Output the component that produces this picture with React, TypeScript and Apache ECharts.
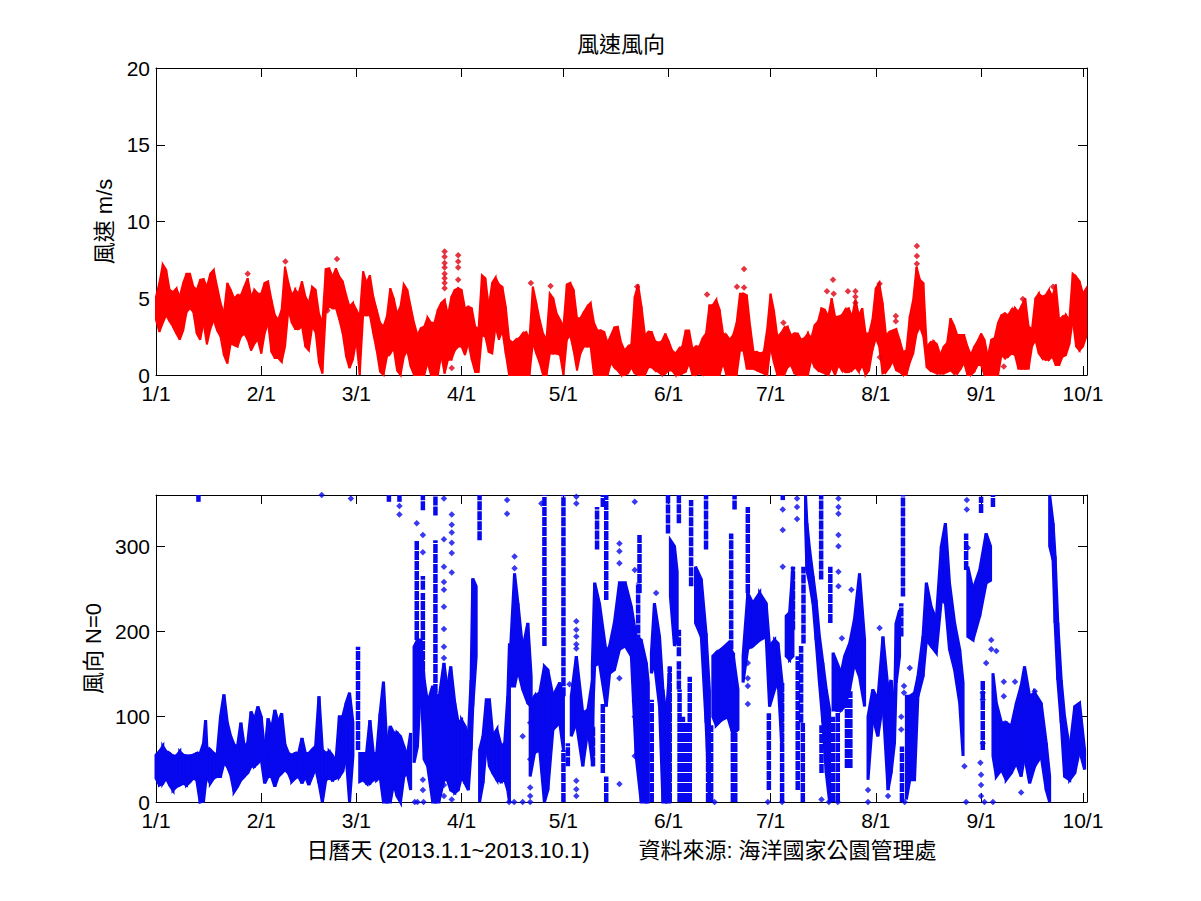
import React, { useEffect, useRef } from "react";
import * as echarts from "echarts";

const monthTicks = [0, 31, 59, 90, 120, 151, 181, 212, 243, 273];
const monthLabels = ["1/1", "2/1", "3/1", "4/1", "5/1", "6/1", "7/1", "8/1", "9/1", "10/1"];
const speedTicks = [0, 5, 10, 15, 20];
const dirTicks = [0, 100, 200, 300];

// daily envelope of wind speed (m/s), index = day of the year from 1/1
const speedLow = [
  3.6,2.8,3.4,3.9,3.5,3.15,2.7,2.3,2.9,4.1,
  4.35,4.1,2.7,2.3,3.4,2,3,3.6,2.9,2.5,
  1.3,.75,2.05,1.95,1.85,2.5,2.7,2.3,1.6,2.05,
  2.3,1.4,2.7,3.4,1.5,1.1,1.1,.85,1.85,4.25,
  3.4,3,3,3.15,1.85,1.6,3.15,2.8,.8,.1,
  4.1,4.45,4.35,4.35,3.6,2.7,1.2,.45,1,2.3,
  0,3.9,3.9,3.9,2.7,1.6,.2,0,1.2,1.4,
  1.75,.3,0,1.2,1.6,.55,0,0,0,0,
  .8,0,0,0,1.3,.1,1,1,1.6,1.85,
  1.85,1.3,2.1,1,.2,.2,2.6,2.5,1.5,1.4,
  3.15,2.3,2.9,1.4,0,0,0,0,0,0,
  0,2.1,1.4,.8,0,0,1.4,1.4,1.4,1.3,
  0,2.3,2.6,1.6,.3,1.4,1.85,1.85,1.85,0,
  0,0,0,0,.8,.5,.3,0,0,.1,
  .5,.1,0,0,0,.5,.5,.3,.2,0,
  .1,.3,.3,0,0,.1,.2,.8,0,0,
  .1,0,0,0,0,0,0,.8,0,0,
  0,0,1.6,1.6,.4,.4,.4,.3,.2,.1,
  0,1.85,.8,0,0,0,.5,.65,.1,0,
  0,0,0,1,.5,.3,.2,.1,0,.5,
  0,.65,.3,.2,.2,.3,.5,.2,.65,0,
  .3,1.6,2.4,1.85,.1,.2,.5,.9,.3,.2,
  0,0,.8,1.4,2.7,3.15,2.5,.5,.3,.2,
  .1,.1,.1,.2,.3,.1,.1,.4,.8,0,
  0,.2,.65,.65,0,0,0,0,0,1.3,
  1.1,1.2,1.4,1.3,.4,.4,.4,.4,1.85,2.3,
  1.4,1.1,1,1,1.2,.65,.65,1.2,1.3,2,
  3.6,1.85,1.6,1.85,2.5,
];
const speedHigh = [
  5.1,6,7.2,6.85,5.55,5.4,5.65,5.1,6,6.6,
  6.6,5.75,5.55,6.2,6.25,5.75,6.6,6.85,5.75,4.7,
  4,6,5.55,5,5.2,5.2,5.75,6.3,5.1,5.55,
  5.3,5.3,6,6.1,4.9,3.9,3.6,4.25,7.05,6,
  5.2,5.55,5.3,6.1,5.1,4.7,5.75,5.55,4,3.4,
  6.9,6.95,6.4,6.95,6.4,6.1,5.2,4.45,4.7,4.25,
  3.8,6.75,6,6.5,5.1,4.25,3.4,3.15,3.8,5.65,
  5,4,4.45,5.9,5.55,4.45,3.4,2.6,3.05,3.15,
  3.75,3.4,3.4,4.25,4.7,4.9,3.9,5.1,5.55,5.65,
  5.55,4.35,4.45,4.35,3.15,3,6.5,6.3,4.45,6,
  6.35,5.9,5.75,4.45,2.3,2.1,2.3,2.4,2.7,2.8,
  2.4,5.75,4.7,3.6,2.7,2.3,5.3,5,4,3.6,
  3.15,5.9,6,5.55,3.7,3.7,4.1,4.45,4.7,3.4,
  2.9,2.9,2.8,2.1,2.6,3.1,3.15,2.1,1.6,1.85,
  2,5.1,5.9,4.45,2.6,2.8,2.8,2.2,2.1,2.2,
  2.7,2.2,1.6,1.4,1.7,1.85,2.9,2.9,1.7,1.85,
  1.85,2.4,2.7,4.55,4.55,4.9,4.25,2.7,2.6,2.3,
  2.6,3.4,5.3,5.3,5.2,3.15,1.5,1.5,1.4,1.5,
  3,5.3,4.2,2.5,2.7,3.05,3.15,2.6,2.7,2.7,
  2.3,2.4,2.7,2.4,3.25,3.5,4.35,4.25,3.8,5,
  3.8,3.8,3.9,4.25,4.35,3.8,4.9,3.9,4.35,2.7,
  2.7,3.6,5.65,6,4.7,2.6,2.8,2.9,3,2.3,
  1.5,1.6,3.8,4.9,7.05,6.2,6,1.85,2.1,2.2,
  2,1.3,1.85,2.1,3.7,3.25,2.6,2.6,2.6,1.85,
  1.3,1.85,2.2,2.7,2.3,1.2,2.3,2.4,3.4,3.9,
  4,3.9,4.25,4.35,4.1,4.55,5,3.15,3,5,
  5.3,5.1,5.2,5.55,5.1,5.9,3.6,3.8,3.9,3.6,
  6.6,6.4,6.1,5.3,5.65,
];
// isolated wind speed readings [day, m/s]
const speedPoints = [
  [85,8.05],[85,7.7],[85,7.3],[85,7],[85,6.6],[85,6.3],[85,6],[85,5.65],
  [89,7.8],[89,7.4],[89,7],[89,6.2],[27,6.6],[38.1,7.4],[53.3,7.55],
  [110.4,6],[116.2,5.8],[141.7,5.75],[162.3,5.25],[171.1,5.75],[173.2,6.9],[173.2,5.7],
  [184.8,3.4],[199.4,6.2],[197.6,5.45],[199.6,5.3],[203.8,5.45],[206,5.45],[206,5.1],[206,4.7],
  [213.1,5.95],[224.1,8.4],[224.1,7.75],[224.1,7.25],[217.9,3.85],[217.9,3.5],
  [249.7,.55],[213.2,1.15],[87.1,.45],[50.5,4.2],[264.2,5.75],[255.3,4.95],
];

// connected runs of wind direction readings: [day, low, high] in degrees
const dirTracks = [
  [[0,28,55],[1,20,59],[2,22,65],[3,28,59],[4,20,57],[5,14,54],[6,18,54],[7,20,59],[8,22,55],[9,20,54],
   [10,24,54],[11,28,55],[12,26,57],[13,0,57],[14,1,69],[14.6,22,96],[15,30,63],[16,22,61],[17,28,57],[18,30,55],
   [19,30,100],[20,46,126],[21,42,93],[22,32,77],[23,12,67],[24,18,65],[25,26,93],[26,30,65],[27,34,69],[28,42,106],
   [29,42,96],[30,46,112],[31,50,100],[32,22,57],[33,30,98],[34,30,85],[35,18,108],[36,30,93],[37,34,104],[38,38,67],
   [39,34,57],[40,24,55],[41,28,57],[42,30,57],[43,22,75],[44,30,57],[45,20,57],[46,30,61],[47,40,65],[48,22,124],
   [49,0,61],[50,26,57],[51,28,59],[52,26,54],[53,28,48],[54,30,100],[55,36,100],[56,54,116],[57,0,128],[58,54,93]],
  [[60,24,57],[61,26,57],[62,22,57],[63,22,96],[64,26,57],[65,26,57],[66,30,104],[67,0,141],[68,0,65],[69,0,89],
   [70,22,81],[71,7,81],[72,0,77],[73,30,65],[74,34,54],[75,14,81]],
  [[76,46,182],[77,65,190],[78,143,190],[79,50,143],[80,42,116],[81.5,0,136],[82.3,0,128],[83.3,0,120],[84.8,26,163],
   [85.8,26,132],[86.8,14,159],[88,11,116],[89,14,93],[90,30,96],[91,22,89],[92,14,77],[92.8,61,143],[93.3,112,262],[94.3,171,253]],
  [[95.3,0,61],[96.3,22,77],[97.3,69,120],[98.2,42,120],[99.2,34,77],[100.4,26,85],[101.7,24,65],[102.7,26,69],[103.6,14,124],[104.1,0,186]],
  [[104.5,136,186],[105.6,136,268],[106.6,155,233],[108,132,179],[109.5,116,210],[110.5,112,147]],
  [[110.2,30,116],[111.5,58,124],[113,61,128],[114.4,0,159],[115.4,14,155],[116.9,85,124],[118.9,93,140],[120,61,124]],
  [[122.3,77,124],[123.8,93,171],[125.7,42,104],[127.2,85,108],[128.7,42,147]],
  [[128.5,93,160],[129.2,160,257],[130.6,163,233],[132.6,112,175],[133.6,151,183],[135,155,210],[136.5,179,257],[138.2,183,257],[140,171,229],[141.4,54,194],[142.9,0,190],[144.4,0,163],[145,0,140]],
  [[145.9,151,175],[146.8,163,233],[148.3,112,194],[149.3,0,132],[150.3,0,100],[151.3,0,159]],
  [[151.5,241,307],[152.7,183,300],[153.5,190,270]],
  [[158.9,210,276],[160.6,194,261],[162,93,198],[163,0,130]],
  [[164,100,171],[165,90,175],[166.5,96,179],[168.4,100,186],[169.9,80,175],[171.4,85,132]],
  [[172.9,140,171],[174.3,180,245],[175.8,183,233],[177.8,190,245],[179.7,194,233],[180.7,112,183],[182.2,132,190],[183.2,143,186],[184.4,60,140]],
  [[185.6,171,218],[186.6,167,222],[187.6,171,276]],
  [[191.3,327,360],[191.7,272,327],[192.5,257,296],[193.5,233,265],[194.4,190,237],[195.4,140,194],[196.4,93,163],[197.4,34,132],[198.4,0,108]],
  [[199.4,108,175],[201.8,108,151],[202.8,112,171],[204.3,132,186],[205.7,163,214],[207.2,147,268],[208.7,112,190]],
  [[209.7,26,100],[211.1,100,132],[212.6,77,120],[214.1,116,194],[215.6,14,132],[216.5,34,143],[217.5,69,108],[218,140,210],[219,171,225]],
  [[221,3,124],[222,26,124],[223.4,26,128],[224.4,124,147],[225.9,147,194],[226.9,190,257],[228.3,183,229],[229.8,175,214],[231.3,237,300],[232.5,233,327],[233.7,179,257],[235.2,155,210],[236.7,116,179],[237.7,54,140]],
  [[239.1,194,276],[240.6,190,249],[242.6,218,272],[244.5,257,315],[245.8,260,300]],
  [[246.5,54,151],[247.5,30,116],[249,38,93],[250.4,26,93],[251.9,34,89],[253.4,46,116],[254.8,30,136],[255.8,54,159],[257.3,22,124],[258.8,42,128],[260.7,54,116],[262.2,14,69],[263.2,0,30]],
  [[263.2,300,360],[264.2,284,327],[264.8,210,288],[265.6,143,210],[266.6,93,143],[267.6,30,100],[269.1,26,61],[270.6,34,112],[272,61,116],[273.5,38,61]],
];
// thin vertical streaks of wind direction readings: [day, low, high]
const dirColumns = [
  [59.5,61,182],[76.8,190,307],[78.6,143,245],[78.6,249,265],[82.3,116,307],
  [12.5,352,360],[68.6,352,360],[71.7,352,360],[78.6,342,360],[82.3,336,360],
  [95.3,307,360],[114.4,183,360],[120,124,360],[120,0,61],[121.3,42,69],[128.7,42,89],[129.9,296,346],[131.6,34,116],[131.6,346,360],
  [132.6,237,360],[132.6,0,30],[142.4,245,313],[142,186,257],[146,0,120],[150.8,315,360],[151.3,0,159],[154,327,360],[154,171,202],[154,132,165],[154.2,0,132],
  [155.2,0,100],[156.2,0,93],[157.6,253,354],[157.2,0,147],[162,296,360],[162.6,0,93],[163.5,0,90],[169.4,179,315],[169.9,0,175],[170.6,0,130],[170.4,343,360],[174.3,245,346],
  [180.5,14,104],[184.4,0,140],[184.6,354,360],[187.6,202,276],[189,14,171],[190,93,183],[190.5,0,93],[190.7,186,276],[195.9,261,360],[196,34,90],
  [198.6,210,276],[199.4,0,100],[200.8,0,132],[203.5,40,120],[204.5,40,130],[220,241,360],[219.5,194,233],[219.7,0,65],[238.6,272,315],[243,339,358],[243.5,61,143],[246.5,346,360],
];
// isolated wind direction readings [day, degrees]
const dirPoints = [
  [57.4,356],[48.8,360],[71.7,347],[71.7,337],[76.8,327],[78.6,313],[78.6,293],[84.8,356],[84.8,308],[84.8,276],[84.8,258],[84.8,249],[84.8,229],[84.8,203],[84.8,182],[84.8,169],
  [87.1,337],[87.1,325],[87.1,316],[87.1,304],[87.1,292],[87.1,269],[78.6,26],[78.6,14],[76.2,0],[77,0],[78.8,0],[84.8,20],[84.8,7],[87.1,3],
  [103.4,354],[103.4,338],[105.6,288],[105.6,274],[108,77],[108,0],[104,0],[105.5,0],[110.2,93],[110.2,50],[110.2,17],[110.2,7],[110.2,0],[113.5,350],[121.8,138],
  [123.8,212],[123.8,202],[123.8,194],[123.8,185],[123.8,180],[123.8,25],[123.8,15],[123.8,7],[123.8,350],[123.8,358],
  [136.5,303],[136.5,294],[136.5,280],[136.5,145],[136.5,21],[141,352],[141,272],[141,118],[141,100],[141,54],[147.3,245],[174.3,163],[174.3,145],[174.3,136],[174.3,115],[164.5,0],[180.2,0],
  [184.6,343],[184.6,319],[184.6,276],[188.8,356],[188.8,346],[188.8,332],[201,356],[201,346],[201,338],[201,313],[201,300],[201,270],[201,253],[202,192],[204.8,249],[213.1,204],[222,157],
  [220.3,136],[220.3,128],[219.5,100],[219.5,85],[238.8,354],[238.8,343],[239.1,298],[238.1,42],[238.6,0],[243,32],[243,20],[243,7],[242.8,46],[243.5,69],[243.5,120],[243.5,128],[244.5,163],
  [246,190],[246,179],[247.5,177],[249.7,141],[249.7,124],[253,141],[258.8,130],[254.8,11],[184.4,0],[196,3],[198.2,0],[200.8,0],[209.7,0],[209.7,14],[215.6,7],[220.5,0],[244,0],[246.5,0],
];

const FONT = "'Liberation Sans', Arial, 'Noto Sans CJK TC', sans-serif";
const INK = "#000";
const X_MAX = 274.2;
const RED = "#ff0000";
const BLUE = "#0808ee";

function xAxes(gridIndex: number) {
  const line = { show: true, onZero: false, lineStyle: { color: INK, width: 1 } };
  const tick = { show: true, inside: true, length: 9, customValues: monthTicks, lineStyle: { color: INK } };
  return [
    {
      type: "value", gridIndex, position: "bottom", min: 0, max: X_MAX, splitLine: { show: false },
      axisLine: line, axisTick: tick,
      axisLabel: {
        show: true, customValues: monthTicks, margin: 10, color: INK, fontFamily: FONT, fontSize: 21, lineHeight: 16,
        showMinLabel: true, showMaxLabel: true,
        formatter: (v: number) => monthLabels[monthTicks.indexOf(v)] ?? "",
      },
      ...(gridIndex === 1
        ? {
            name: "日曆天 (2013.1.1~2013.10.1)        資料來源: 海洋國家公園管理處",
            nameLocation: "middle", nameGap: 37,
            nameTextStyle: { color: INK, fontFamily: FONT, fontSize: 22 },
          }
        : {}),
    },
    {
      type: "value", gridIndex, position: "top", min: 0, max: X_MAX, splitLine: { show: false },
      axisLine: line, axisTick: tick, axisLabel: { show: false },
    },
  ];
}

function yAxes(gridIndex: number, max: number, ticks: number[], name: string, nameGap: number) {
  const line = { show: true, onZero: false, lineStyle: { color: INK, width: 1 } };
  const tick = { show: true, inside: true, length: 9, customValues: ticks, lineStyle: { color: INK } };
  return [
    {
      type: "value", gridIndex, position: "left", min: 0, max, splitLine: { show: false },
      axisLine: line, axisTick: tick,
      axisLabel: { show: true, customValues: ticks, margin: 6, color: INK, fontFamily: FONT, fontSize: 21, lineHeight: 16 },
      name, nameLocation: "middle", nameGap, nameRotate: 90,
      nameTextStyle: { color: INK, fontFamily: FONT, fontSize: 22 },
    },
    {
      type: "value", gridIndex, position: "right", min: 0, max, splitLine: { show: false },
      axisLine: line, axisTick: tick, axisLabel: { show: false },
    },
  ];
}

export default function App() {
  const ref = useRef<HTMLDivElement>(null);
  useEffect(() => {
    const chart = echarts.init(ref.current!, undefined, { renderer: "svg" });
    const speedBand = speedLow.map((low, i) => [i, low, speedHigh[i]]);
    const trackRows = dirTracks.flatMap((track, t) => track.map((row) => [row[0], row[1], row[2], t]));
    const strip = (color: string, width: number, rows: number[][], sameRun: (a: number[], b: number[]) => boolean) =>
      (p: any, api: any) => {
        const a = rows[p.dataIndex];
        const b = rows[p.dataIndex + 1];
        if (!b || !sameRun(a, b)) return null;
        return {
          type: "polygon",
          shape: { points: [api.coord([a[0], a[1]]), api.coord([a[0], a[2]]), api.coord([b[0], b[2]]), api.coord([b[0], b[1]])] },
          style: { fill: color, stroke: color, lineWidth: width },
        };
      };
    chart.setOption({
      animation: false,
      backgroundColor: "#fff",
      title: {
        text: "風速風向", left: 621, top: 33, textAlign: "center", padding: 0,
        textStyle: { color: INK, fontFamily: FONT, fontSize: 22, fontWeight: "normal" },
      },
      grid: [
        { left: 156, top: 68, width: 931, height: 307 },
        { left: 156, top: 495, width: 931, height: 307 },
      ],
      xAxis: [...xAxes(0), ...xAxes(1)],
      yAxis: [
        ...yAxes(0, 20, speedTicks, "風速 m/s", 40),
        ...yAxes(1, 360, dirTicks, "風向 N=0", 52),
      ],
      series: [
        {
          type: "custom", xAxisIndex: 0, yAxisIndex: 0, clip: false, silent: true,
          data: speedBand, encode: { x: 0, y: [1, 2] },
          renderItem: strip(RED, 2, speedBand, () => true),
        },
        {
          type: "scatter", xAxisIndex: 0, yAxisIndex: 0, clip: false, silent: true,
          data: speedPoints, symbol: "diamond", symbolSize: 6.5, itemStyle: { color: "#e00010" },
        },
        {
          type: "custom", xAxisIndex: 2, yAxisIndex: 2, clip: false, silent: true,
          data: trackRows, encode: { x: 0, y: [1, 2] },
          renderItem: strip(BLUE, 3, trackRows, (a, b) => a[3] === b[3]),
        },
        {
          type: "custom", xAxisIndex: 2, yAxisIndex: 2, clip: false, silent: true,
          data: dirColumns, encode: { x: 0, y: [1, 2] },
          renderItem: (_p: any, api: any) => {
            const a = api.coord([api.value(0), api.value(1)]);
            const b = api.coord([api.value(0), api.value(2)]);
            return {
              type: "line",
              shape: { x1: a[0], y1: a[1], x2: b[0], y2: b[1] },
              style: { stroke: BLUE, lineWidth: 4.5, lineDash: [9, 1] },
            };
          },
        },
        {
          type: "scatter", xAxisIndex: 2, yAxisIndex: 2, clip: false, silent: true,
          data: dirPoints, symbol: "diamond", symbolSize: 6.5, itemStyle: { color: BLUE },
        },
      ],
    });
    return () => chart.dispose();
  }, []);
  return <div ref={ref} style={{ position: "absolute", left: 0, top: 0, width: 1201, height: 901 }} />;
}
